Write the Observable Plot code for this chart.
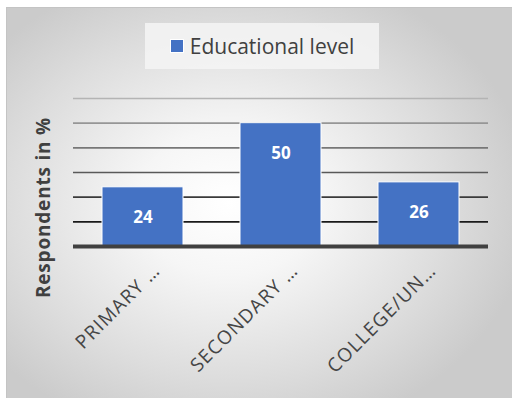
<!DOCTYPE html>
<html>
<head>
<meta charset="utf-8">
<script src="https://cdn.jsdelivr.net/npm/d3@7"></script>
<script src="https://cdn.jsdelivr.net/npm/@observablehq/plot@0.6"></script>
<style>
  html, body { margin: 0; padding: 0; background: #ffffff; }
  #wrap { position: relative; width: 512px; height: 398px; overflow: hidden; font-family: "Open Sans", sans-serif; }
  #panel {
    position: absolute; left: 6px; top: 7px; width: 506px; height: 391px;
    background: radial-gradient(ellipse 60% 62% at 44% 50%, #ffffff 0%, #f6f6f6 30%, #dddddd 72%, #cbcbcb 100%);
    border-top: 1px solid #c4c4c4; border-left: 1px solid #c4c4c4;
    box-sizing: border-box;
  }
  #legend {
    position: absolute; left: 145px; top: 23px; width: 234px; height: 46px;
    background: rgba(245,245,245,0.85);
    display: flex; align-items: center; justify-content: center;
    font-size: 21px; color: #404040;
  }
  #legend .sw { width: 12px; height: 12px; background: #4472c4; border: 1px solid #ffffff; margin-right: 6px; }
  #chart { position: absolute; left: 0; top: 0; }
</style>
</head>
<body>
<div id="wrap">
  <div id="panel"></div>
  <div id="chart"></div>
  <div id="legend"><span class="sw"></span><span id="legendText"></span></div>
</div>
<script>
// Share of respondents by educational level
const seriesName = "Educational level";
const categories = ["PRIMARY …", "SECONDARY …", "COLLEGE/UN…"];
const values = [24, 50, 26];
const gridTicks = [10, 20, 30, 40, 50, 60];
const yTitle = "Respondents in %";

const data = categories.map((c, i) => ({category: c, value: values[i]}));

// gridlines fade from near-black at the bottom to light grey at the top
const gridColor = d3.scaleLinear().domain([10, 30, 60]).range(["#1a1a1a", "#595959", "#b4b4b4"]);

document.getElementById("legendText").textContent = seriesName;

const chart = Plot.plot({
  width: 512,
  height: 398,
  marginLeft: 73,
  marginRight: 24,
  marginTop: 98,
  marginBottom: 152,
  style: {background: "transparent", fontFamily: "Open Sans, sans-serif", overflow: "visible"},
  x: {domain: categories, paddingInner: 0.41, paddingOuter: 0.205, axis: null},
  y: {domain: [0, 60], axis: null},
  marks: [
    Plot.ruleY(gridTicks, {stroke: d => gridColor(d), strokeWidth: 1.6}),
    Plot.barY(data, {x: "category", y: "value", fill: "#4472c4", stroke: "#ffffff", strokeWidth: 1}),
    Plot.ruleY([0], {stroke: "#404040", strokeWidth: 4}),
    Plot.text(data, {x: "category", y: "value", text: d => String(d.value), dy: 30,
      fill: "#ffffff", fontWeight: "bold", fontSize: 17}),
    Plot.text(data, {x: "category", y: 0, text: "category", rotate: -45, textAnchor: "end",
      dx: 14, dy: 21, fill: "#454545", fontSize: 19}),
    Plot.text([yTitle], {frameAnchor: "left", textAnchor: "middle", rotate: -90, dx: -30, dy: 35,
      fill: "#404040", fontSize: 19, fontWeight: "bold"})
  ]
});
// slightly open tracking on the category labels and the axis title
const textGroups = chart.querySelectorAll('g[aria-label="text"]');
if (textGroups[1]) textGroups[1].setAttribute("letter-spacing", "1.2px");
if (textGroups[2]) textGroups[2].setAttribute("letter-spacing", "0.8px");
document.getElementById("chart").appendChild(chart);
</script>
</body>
</html>
